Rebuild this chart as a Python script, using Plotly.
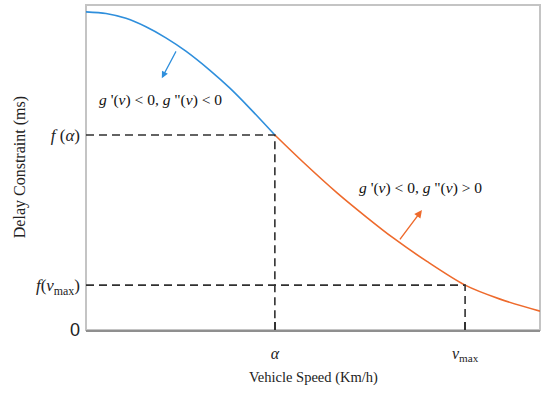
import plotly.graph_objects as go

# values (normalised units)
speed = [0.0, 0.44, 0.88, 1.32, 1.76, 2.20, 2.73, 3.17, 3.61, 4.16,
         4.78, 5.53, 6.19, 6.76, 7.51, 8.35, 9.12, 10.0]
delay = [9.79, 9.74, 9.59, 9.33, 8.99, 8.58, 7.99, 7.44, 6.82, 6.00,
         5.17, 4.22, 3.46, 2.84, 2.11, 1.38, 0.95, 0.58]
alpha = 4.16
v_max = 8.35
f_alpha = 6.00
f_vmax = 1.38

x_tick_vals = [alpha, v_max]
x_tick_text = ["<i>α</i>", "<i>v</i><sub>max</sub>"]
y_tick_vals = [0, f_vmax, f_alpha]
y_tick_text = ['<span style="font-family:Liberation Sans;font-size:18px">0</span>',
               "<i>f</i>(<i>v</i><sub>max</sub>)", "<i>f</i> (<i>α</i>)"]

BLUE = "#2f8fdc"
ORANGE = "#ee6a2c"
DASH = "#303030"
SERIF = "Liberation Serif"

i_a = speed.index(alpha)
fig = go.Figure()
fig.add_trace(go.Scatter(x=speed[:i_a + 1], y=delay[:i_a + 1], mode="lines",
                         line=dict(color=BLUE, width=1.6, shape="spline", smoothing=0.8),
                         hoverinfo="skip"))
fig.add_trace(go.Scatter(x=speed[i_a:], y=delay[i_a:], mode="lines",
                         line=dict(color=ORANGE, width=1.6, shape="spline", smoothing=0.8),
                         hoverinfo="skip"))
# dashed guide lines
for xv, yv in [(alpha, f_alpha), (v_max, f_vmax)]:
    fig.add_trace(go.Scatter(x=[0, xv, xv], y=[yv, yv, 0], mode="lines",
                             line=dict(color=DASH, width=1.6, dash="8px,5px"), hoverinfo="skip"))

# frame (light grey)
fig.add_shape(type="rect", xref="paper", yref="paper", x0=0, y0=0, x1=1, y1=1,
              line=dict(color="#c4c4c4", width=2), layer="below")

# arrows
fig.add_annotation(x=1.67, y=7.75, ax=2.00, ay=8.62, xref="x", yref="y", axref="x", ayref="y",
                   text="", showarrow=True, arrowhead=2, arrowsize=1.1, arrowwidth=1.2,
                   arrowcolor=BLUE)
fig.add_annotation(x=7.40, y=3.69, ax=6.89, ay=2.74, xref="x", yref="y", axref="x", ayref="y",
                   text="", showarrow=True, arrowhead=2, arrowsize=1.1, arrowwidth=1.4,
                   arrowcolor=ORANGE)
fig.add_annotation(x=1.63, y=7.08, xref="x", yref="y", showarrow=False,
                   text="<i>g</i> '(<i>v</i>) &lt; 0, <i>g</i> \"(<i>v</i>) &lt; 0",
                   font=dict(family=SERIF, size=15.5, color="#111"))
fig.add_annotation(x=7.36, y=4.37, xref="x", yref="y", showarrow=False,
                   text="<i>g</i> '(<i>v</i>) &lt; 0, <i>g</i> \"(<i>v</i>) &gt; 0",
                   font=dict(family=SERIF, size=15.5, color="#111"))

# axis titles
fig.add_annotation(x=0.5, y=-0.145, xref="paper", yref="paper", showarrow=False,
                   text="Vehicle Speed (Km/h)", font=dict(family=SERIF, size=14.5, color="#222"),
                   yanchor="middle")
fig.add_annotation(x=-0.146, y=0.5, xref="paper", yref="paper", showarrow=False,
                   text="Delay Constraint (ms)", textangle=-90,
                   font=dict(family=SERIF, size=16, color="#222"), xanchor="center")

fig.update_layout(
    width=549, height=395,
    margin=dict(l=86, r=9, t=5, b=65),
    paper_bgcolor="white", plot_bgcolor="white",
    showlegend=False,
    xaxis=dict(range=[0, 10], showgrid=False, zeroline=False, showline=True,
               linecolor="#8f8f8f", linewidth=1.5, tickmode="array",
               tickvals=x_tick_vals, ticktext=x_tick_text, ticks="inside",
               ticklen=8, tickwidth=1.5, tickcolor="#333", ticklabelstandoff=8,
               tickfont=dict(family=SERIF, size=16, color="#222"), fixedrange=True),
    yaxis=dict(range=[0, 10], showgrid=False, zeroline=False, showline=False,
               tickmode="array", tickvals=y_tick_vals, ticktext=y_tick_text,
               ticks="", ticklabelstandoff=5,
               tickfont=dict(family=SERIF, size=17, color="#222"), fixedrange=True),
)

fig.write_html("out.html")
